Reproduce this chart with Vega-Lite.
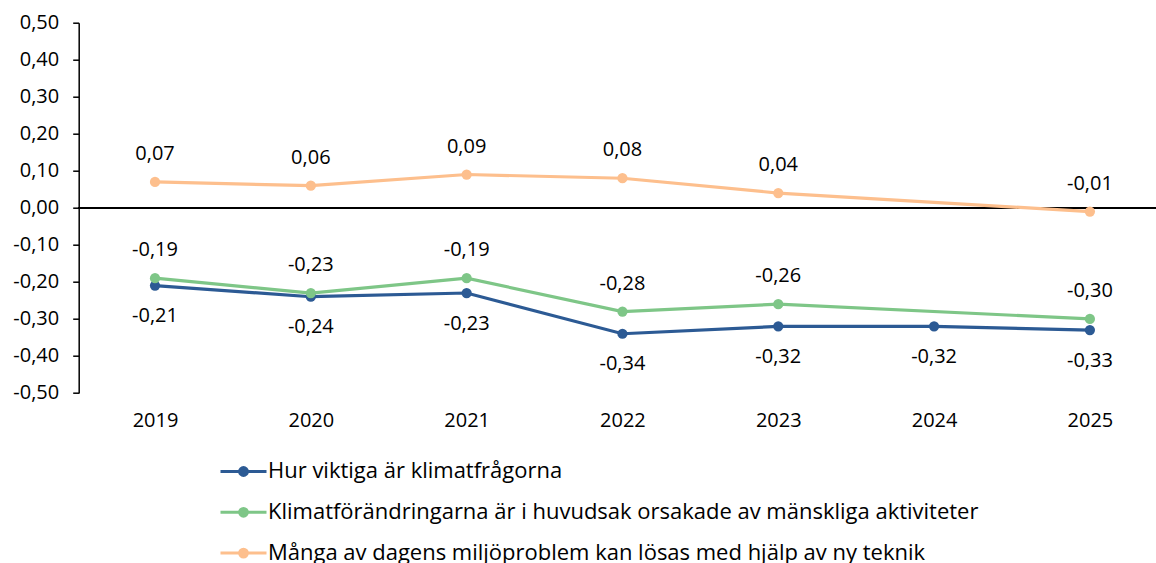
{
  "$schema": "https://vega.github.io/schema/vega-lite/v6.json",
  "width": 1077,
  "height": 370.3,
  "autosize": {"type": "none"},
  "padding": {"left": 78.7, "top": 22.7, "right": 0, "bottom": 170},
  "background": "white",
  "config": {
    "view": {"stroke": null},
    "font": "Open Sans",
    "locale": {"number": {"decimal": ",", "thousands": " ", "grouping": [3], "currency": ["", " kr"], "minus": "-"}}
  },
  "data": {"values": [
    {"year": "2019", "series": "Hur viktiga är klimatfrågorna", "value": -0.21},
    {"year": "2020", "series": "Hur viktiga är klimatfrågorna", "value": -0.24},
    {"year": "2021", "series": "Hur viktiga är klimatfrågorna", "value": -0.23},
    {"year": "2022", "series": "Hur viktiga är klimatfrågorna", "value": -0.34},
    {"year": "2023", "series": "Hur viktiga är klimatfrågorna", "value": -0.32},
    {"year": "2024", "series": "Hur viktiga är klimatfrågorna", "value": -0.32},
    {"year": "2025", "series": "Hur viktiga är klimatfrågorna", "value": -0.33},
    {"year": "2019", "series": "Klimatförändringarna är i huvudsak orsakade av mänskliga aktiviteter", "value": -0.19},
    {"year": "2020", "series": "Klimatförändringarna är i huvudsak orsakade av mänskliga aktiviteter", "value": -0.23},
    {"year": "2021", "series": "Klimatförändringarna är i huvudsak orsakade av mänskliga aktiviteter", "value": -0.19},
    {"year": "2022", "series": "Klimatförändringarna är i huvudsak orsakade av mänskliga aktiviteter", "value": -0.28},
    {"year": "2023", "series": "Klimatförändringarna är i huvudsak orsakade av mänskliga aktiviteter", "value": -0.26},
    {"year": "2025", "series": "Klimatförändringarna är i huvudsak orsakade av mänskliga aktiviteter", "value": -0.30},
    {"year": "2019", "series": "Många av dagens miljöproblem kan lösas med hjälp av ny teknik", "value": 0.07},
    {"year": "2020", "series": "Många av dagens miljöproblem kan lösas med hjälp av ny teknik", "value": 0.06},
    {"year": "2021", "series": "Många av dagens miljöproblem kan lösas med hjälp av ny teknik", "value": 0.09},
    {"year": "2022", "series": "Många av dagens miljöproblem kan lösas med hjälp av ny teknik", "value": 0.08},
    {"year": "2023", "series": "Många av dagens miljöproblem kan lösas med hjälp av ny teknik", "value": 0.04},
    {"year": "2025", "series": "Många av dagens miljöproblem kan lösas med hjälp av ny teknik", "value": -0.01}
  ]},
  "encoding": {
    "x": {
      "field": "year", "type": "ordinal",
      "scale": {"type": "point", "padding": 0.456, "align": 0.537},
      "axis": {"title": null, "domain": false, "ticks": false, "labelAngle": 0, "labelPadding": 18, "labelFontSize": 20, "labelColor": "#000000", "labelFont": "Open Sans"}
    },
    "y": {
      "field": "value", "type": "quantitative",
      "scale": {"domain": [-0.5, 0.5], "nice": false, "zero": false},
      "axis": {"title": null, "values": [-0.5, -0.4, -0.3, -0.2, -0.1, 0, 0.1, 0.2, 0.3, 0.4, 0.5], "format": ".2f", "grid": false, "domain": true, "domainColor": "#000000", "domainWidth": 1.5, "ticks": true, "tickColor": "#000000", "tickSize": 6, "tickWidth": 1.5, "labelPadding": 14, "labelFontSize": 20, "labelColor": "#000000", "labelFont": "Open Sans"}
    }
  },
  "layer": [
    {
      "mark": {"type": "rule", "color": "#000000", "strokeWidth": 1.5},
      "encoding": {"y": {"datum": 0}, "x": null}
    },
    {
      "mark": {"type": "line", "strokeWidth": 3.2},
      "encoding": {
        "color": {
          "field": "series", "type": "nominal",
          "scale": {
            "domain": ["Hur viktiga är klimatfrågorna", "Klimatförändringarna är i huvudsak orsakade av mänskliga aktiviteter", "Många av dagens miljöproblem kan lösas med hjälp av ny teknik"],
            "range": ["#2C5A94", "#7EC687", "#FDBF8D"]
          },
          "legend": {
            "title": null, "orient": "none", "direction": "vertical",
            "legendX": 140.3, "legendY": 424.3, "padding": 0, "offset": 0,
            "rowPadding": 4.8,
            "symbolType": "M-1,0L1,0M0.17,0A0.17,0.17,0,1,1,-0.17,0A0.17,0.17,0,1,1,0.17,0Z",
            "symbolSize": 2116, "symbolStrokeWidth": 3,
            "labelFontSize": 22, "labelColor": "#000000", "labelFont": "Open Sans", "labelOffset": 0, "labelLimit": 0,
            "encode": {"symbols": {"update": {"fill": {"scale": "color", "field": "value"}, "stroke": {"scale": "color", "field": "value"}, "fillOpacity": {"value": 1}, "strokeOpacity": {"value": 1}}}}
          }
        }
      }
    },
    {
      "mark": {"type": "point", "filled": true, "size": 105, "opacity": 1},
      "encoding": {
        "color": {"field": "series", "type": "nominal", "legend": null}
      }
    },
    {
      "transform": [{"filter": "datum.series !== 'Hur viktiga är klimatfrågorna'"}],
      "mark": {"type": "text", "dy": -28, "fontSize": 20, "color": "#000000", "baseline": "middle", "font": "Open Sans"},
      "encoding": {"text": {"field": "value", "type": "quantitative", "format": ".2f"}}
    },
    {
      "transform": [{"filter": "datum.series === 'Hur viktiga är klimatfrågorna'"}],
      "mark": {"type": "text", "dy": 30.5, "fontSize": 20, "color": "#000000", "baseline": "middle", "font": "Open Sans"},
      "encoding": {"text": {"field": "value", "type": "quantitative", "format": ".2f"}}
    }
  ]
}
